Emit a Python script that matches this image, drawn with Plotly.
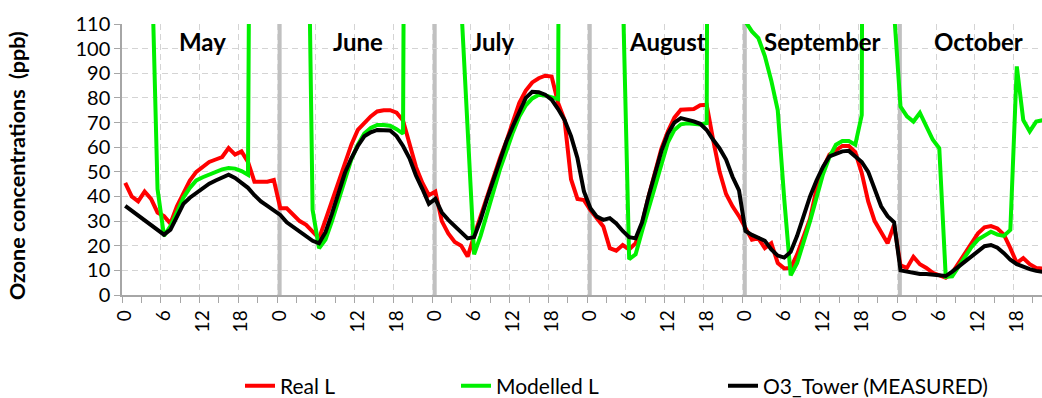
import plotly.graph_objects as go

# Hourly mean diurnal cycle, May to October (24 values per month)
months = ["May", "June", "July", "August", "September", "October"]
hour_labels = ["0", "6", "12", "18"]

real_l = [
    45.5, 40, 38, 42, 39, 33.5, 32, 29, 36, 41.5, 46.5, 50, 52, 54, 55, 56, 59.6, 57, 58.3, 54, 46, 46, 46, 46.7,
    35.2, 35.2, 32.5, 30, 28.5, 26, 23, 30.5, 38, 46, 54, 61, 67, 70, 72.5, 74.5, 75, 75, 74, 70.8, 61, 52, 45.5, 40.5,
    42, 30, 25, 21.5, 20, 15.6, 24, 32, 39.5, 47.5, 55.5, 62.5, 70, 78, 83, 86.3, 88, 89, 88.7, 78, 71, 47, 39, 38.5,
    34.5, 31, 27.8, 19, 18, 20.3, 18.5, 21, 29, 40, 50, 59.5, 66.5, 72, 75.2, 75.5, 75.5, 77, 77.2, 63, 50, 41, 36, 32,
    27, 22.4, 23, 19, 21, 13, 10.8, 11, 16.5, 24, 31, 43, 51.5, 57, 59, 60.5, 60.5, 58, 49.5, 38, 30, 25.5, 21, 28.5,
    12, 11, 15.5, 12.5, 11, 9, 8, 7, 9, 13, 17, 21.5, 25, 27.5, 28, 27, 24.5, 19, 13, 15, 12.5, 11, 10.8, 10.5,
]

modelled_l = [
    255, 238, 214, 186, 146, 43, 24, 28, 33.5, 39.5, 43.5, 46.5, 47.8, 48.9, 50, 51, 51.5, 51.3, 50.3, 48.8, 520, 600, 560, 480,
    430, 380, 330, 280, 220, 34.6, 19, 22.5, 30, 38, 47, 55, 61, 65.5, 67.8, 69, 69, 68.7, 67.3, 65.5, 650, 700, 620, 540,
    470, 400, 330, 250, 118, 66, 16.5, 24, 32.5, 42, 51, 59, 66, 72.5, 77, 79.8, 81.3, 81, 80.3, 79.5, 700, 760, 680, 600,
    520, 440, 360, 280, 200, 125, 14.5, 16.5, 26, 35, 44.5, 53.5, 62, 67, 69.3, 69.7, 69.5, 69.2, 69.8, 900, 760, 690, 600, 480,
    111, 107, 104.3, 97, 87, 75, 39, 8, 13, 21, 30, 39.5, 49, 56, 61, 62.5, 62.5, 61, 73, 1000, 900, 700, 400, 115,
    76.5, 72.5, 70.4, 73.9, 68, 63, 59.6, 7.4, 7.6, 11.5, 16, 19.5, 22.5, 24.3, 25.7, 24.5, 24, 26.4, 92.8, 71, 66.4, 70.4, 71.1, 71.5,
]

o3_tower = [
    36.2, 34.3, 32.4, 30.5, 28.5, 26.5, 24.5, 26.5, 31.5, 37, 39.5, 41.5, 43, 45.2, 46.5, 47.8, 48.8, 47.5, 45.5, 43.5, 40.5, 38, 36.2, 34.5,
    32.5, 29.5, 27.5, 25.8, 23.8, 22, 21, 25.5, 33, 41, 49.5, 55.5, 60.5, 64.4, 66, 67, 67, 66.8, 64.5, 60.5, 55.5, 48.5, 43, 37,
    39, 33.5, 30.5, 28, 25.5, 23, 23.5, 30.5, 39, 47, 55.5, 62.3, 68.5, 74.5, 80, 82.5, 82.3, 81.3, 79.3, 75.5, 71, 64.5, 55.5, 42,
    35.2, 31.8, 30.5, 31.2, 29, 26, 23.5, 23, 29.5, 40, 50, 58.5, 65.5, 70, 71.8, 71.3, 70.5, 69.5, 67, 63, 59.5, 55, 48, 42.5,
    26, 24.4, 23.3, 22, 18.5, 16, 15.2, 17.5, 24, 32, 40, 46.5, 52, 56.3, 57.5, 58.3, 58.5, 56.3, 54, 50, 43, 36, 32, 29.5,
    10, 9.5, 9, 8.5, 8.5, 8.3, 7.8, 7.7, 9.5, 11.5, 13.5, 16, 18, 19.8, 20.3, 19.2, 17, 14.3, 12.5, 11.3, 10.5, 9.8, 9.3, 9,
]

series = [
    ("Real L", real_l, "#ff0000"),
    ("Modelled L", modelled_l, "#00f000"),
    ("O3_Tower (MEASURED)", o3_tower, "#000000"),
]

n_hours = 24 * len(months)
x = list(range(n_hours))

FONT = "Lato, 'Open Sans', sans-serif"
GRID = "#d4d4d4"
AXIS = "#a6a6a6"

fig = go.Figure()
legend_ids = ["legend", "legend2", "legend3"]
for (name, values, color), lg in zip(series, legend_ids):
    fig.add_trace(go.Scatter(
        x=x, y=values, name=name, mode="lines",
        line=dict(color=color, width=4),
        legend=lg, showlegend=True, hoverinfo="x+y+name",
    ))

# Category boundaries sit half an hour either side of each hourly point
tickvals = [24 * m + h - 0.5 for m in range(len(months)) for h in (0, 6, 12, 18)]
ticktext = [lab for _ in months for lab in hour_labels]

fig.update_xaxes(
    range=[-0.5, 141.9], automargin=False,
    tickmode="array", tickvals=tickvals, ticktext=ticktext,
    ticklabelshift=3, tickangle=-90,
    ticks="outside", ticklen=6, tickcolor=AXIS, tickwidth=1,
    minor=dict(tick0=-0.5, dtick=3, ticks="outside", ticklen=6, tickcolor=AXIS, showgrid=False),
    showgrid=True, gridcolor=GRID, griddash="6px,4px", gridwidth=1,
    showline=True, linecolor=AXIS, linewidth=1.5,
    zeroline=False,
    tickfont=dict(family=FONT, size=19, color="#000000"),
)
fig.update_yaxes(
    range=[0, 110], tickmode="linear", tick0=0, dtick=10, automargin=False,
    ticks="outside", ticklen=6, tickcolor=AXIS,
    showgrid=True, gridcolor=GRID, griddash="6px,4px", gridwidth=1,
    showline=True, linecolor=AXIS, linewidth=1.5,
    zeroline=False,
    tickfont=dict(family=FONT, size=20, color="#000000"),
)

# Month separators
for m in range(1, len(months)):
    fig.add_shape(type="line", xref="x", yref="y domain",
                  x0=24 * m - 0.1, x1=24 * m - 0.1, y0=0, y1=1,
                  line=dict(color="#c0c0c0", width=4), layer="below")

# Month names across the top of each block
label_shift = {"July": -3.0}
for m, name in enumerate(months):
    fig.add_annotation(
        x=24 * m + 12 + label_shift.get(name, 0.0), y=103,
        xref="x", yref="y", text=f"<b>{name}</b>", showarrow=False,
        font=dict(family=FONT, size=24, color="#000000"),
    )

fig.add_annotation(
    x=-0.114, y=0.476, xref="paper", yref="paper",
    xanchor="center", yanchor="middle",
    text="<b>Ozone concentrations\u00a0 (ppb)</b>", textangle=-90, showarrow=False,
    font=dict(family=FONT, size=21.5, color="#000000"),
)

legend_style = dict(orientation="h", xref="container", yref="container",
                    yanchor="middle", xanchor="left",
                    bgcolor="rgba(0,0,0,0)", font=dict(family=FONT, size=21, color="#000000"))
fig.update_layout(
    showlegend=True,
    legend=dict(x=240 / 1042, y=0.03, **legend_style),
    legend2=dict(x=456 / 1042, y=0.03, **legend_style),
    legend3=dict(x=723 / 1042, y=0.03, **legend_style),
    width=1042, height=398,
    margin=dict(l=122, r=0, t=24, b=103, autoexpand=False),
    plot_bgcolor="#ffffff", paper_bgcolor="#ffffff",
    font=dict(family=FONT),
)

fig.write_html("out.html")
